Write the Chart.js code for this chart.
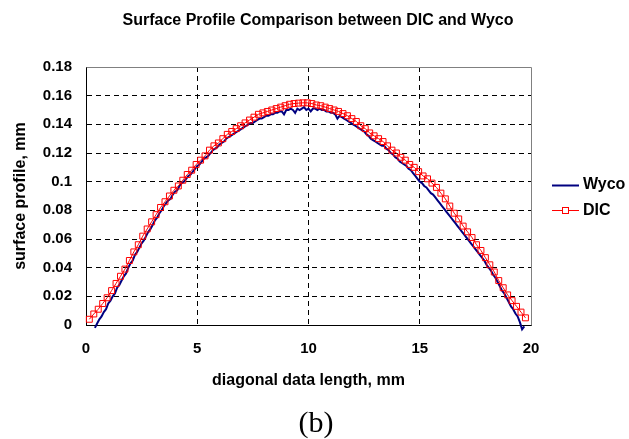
<!DOCTYPE html>
<html>
<head>
<meta charset="utf-8">
<script src="https://cdn.jsdelivr.net/npm/chart.js@4"></script>
<style>
  body { margin: 0; background: #fff; }
</style>
</head>
<body>
<canvas id="profileChart" width="629" height="439"></canvas>
<script>
// Wyco profile (mm)
const wycoX = [
    0.4, 0.5, 0.6, 0.7, 0.8, 0.9, 1.0, 1.1, 1.2, 1.3,
    1.4, 1.5, 1.6, 1.7, 1.8, 1.9, 2.0, 2.1, 2.2, 2.3,
    2.4, 2.5, 2.6, 2.7, 2.8, 2.9, 3.0, 3.1, 3.2, 3.3,
    3.4, 3.5, 3.6, 3.7, 3.8, 3.9, 4.0, 4.1, 4.2, 4.3,
    4.4, 4.5, 4.6, 4.7, 4.8, 4.9, 5.0, 5.1, 5.2, 5.3,
    5.4, 5.5, 5.6, 5.7, 5.8, 5.9, 6.0, 6.1, 6.2, 6.3,
    6.4, 6.5, 6.6, 6.7, 6.8, 6.9, 7.0, 7.1, 7.2, 7.3,
    7.4, 7.5, 7.6, 7.7, 7.8, 7.9, 8.0, 8.1, 8.2, 8.3,
    8.4, 8.5, 8.6, 8.7, 8.8, 8.9, 9.0, 9.1, 9.2, 9.3,
    9.4, 9.5, 9.6, 9.7, 9.8, 9.9, 10.0, 10.1, 10.2, 10.3,
    10.4, 10.5, 10.6, 10.7, 10.8, 10.9, 11.0, 11.1, 11.2, 11.3,
    11.4, 11.5, 11.6, 11.7, 11.8, 11.9, 12.0, 12.1, 12.2, 12.3,
    12.4, 12.5, 12.6, 12.7, 12.8, 12.9, 13.0, 13.1, 13.2, 13.3,
    13.4, 13.5, 13.6, 13.7, 13.8, 13.9, 14.0, 14.1, 14.2, 14.3,
    14.4, 14.5, 14.6, 14.7, 14.8, 14.9, 15.0, 15.1, 15.2, 15.3,
    15.4, 15.5, 15.6, 15.7, 15.8, 15.9, 16.0, 16.1, 16.2, 16.3,
    16.4, 16.5, 16.6, 16.7, 16.8, 16.9, 17.0, 17.1, 17.2, 17.3,
    17.4, 17.5, 17.6, 17.7, 17.8, 17.9, 18.0, 18.1, 18.2, 18.3,
    18.4, 18.5, 18.6, 18.7, 18.8, 18.9, 19.0, 19.1, 19.2, 19.3,
    19.4, 19.5, 19.6, 19.7
];
const wycoY = [
    -0.002, 0.001, 0.004, 0.006, 0.009, 0.011, 0.015, 0.017, 0.020, 0.022,
    0.026, 0.028, 0.031, 0.034, 0.036, 0.040, 0.043, 0.045, 0.049, 0.051,
    0.054, 0.057, 0.059, 0.062, 0.065, 0.067, 0.070, 0.073, 0.075, 0.078,
    0.080, 0.083, 0.085, 0.087, 0.088, 0.091, 0.093, 0.094, 0.097, 0.099,
    0.100, 0.102, 0.104, 0.105, 0.107, 0.109, 0.111, 0.112, 0.114, 0.116,
    0.117, 0.118, 0.120, 0.122, 0.123, 0.124, 0.126, 0.127, 0.128, 0.130,
    0.131, 0.132, 0.133, 0.134, 0.135, 0.136, 0.137, 0.138, 0.139, 0.140,
    0.141, 0.141, 0.142, 0.143, 0.144, 0.144, 0.145, 0.146, 0.146, 0.147,
    0.147, 0.148, 0.148, 0.149, 0.149, 0.147, 0.150, 0.150, 0.151, 0.150,
    0.148, 0.151, 0.150, 0.151, 0.152, 0.150, 0.151, 0.149, 0.151, 0.151,
    0.150, 0.151, 0.150, 0.150, 0.149, 0.149, 0.148, 0.148, 0.147, 0.144,
    0.146, 0.145, 0.144, 0.143, 0.142, 0.141, 0.140, 0.139, 0.138, 0.137,
    0.136, 0.135, 0.133, 0.132, 0.130, 0.129, 0.128, 0.127, 0.126, 0.125,
    0.125, 0.123, 0.122, 0.120, 0.119, 0.117, 0.116, 0.114, 0.113, 0.112,
    0.111, 0.109, 0.108, 0.106, 0.104, 0.102, 0.100, 0.099, 0.097, 0.096,
    0.094, 0.092, 0.091, 0.089, 0.087, 0.085, 0.083, 0.081, 0.079, 0.077,
    0.075, 0.073, 0.071, 0.069, 0.067, 0.065, 0.063, 0.061, 0.059, 0.057,
    0.055, 0.053, 0.051, 0.049, 0.047, 0.045, 0.042, 0.040, 0.038, 0.035,
    0.033, 0.030, 0.027, 0.024, 0.022, 0.019, 0.016, 0.013, 0.011, 0.008,
    0.006, 0.002, -0.003, -0.001
];

// DIC profile (mm), one value per marker
const dicX = [
    0.15, 0.35, 0.55, 0.75, 0.95, 1.15, 1.35, 1.55, 1.75, 1.95,
    2.15, 2.35, 2.55, 2.75, 2.95, 3.15, 3.35, 3.55, 3.75, 3.95,
    4.15, 4.35, 4.55, 4.75, 4.95, 5.15, 5.35, 5.55, 5.75, 5.95,
    6.15, 6.35, 6.55, 6.75, 6.95, 7.15, 7.35, 7.55, 7.75, 7.95,
    8.15, 8.35, 8.55, 8.75, 8.95, 9.15, 9.35, 9.55, 9.75, 9.95,
    10.15, 10.35, 10.55, 10.75, 10.95, 11.15, 11.35, 11.55, 11.75, 11.95,
    12.15, 12.35, 12.55, 12.75, 12.95, 13.15, 13.35, 13.55, 13.75, 13.95,
    14.15, 14.35, 14.55, 14.75, 14.95, 15.15, 15.35, 15.55, 15.75, 15.95,
    16.15, 16.35, 16.55, 16.75, 16.95, 17.15, 17.35, 17.55, 17.75, 17.95,
    18.15, 18.35, 18.55, 18.75, 18.95, 19.15, 19.35, 19.55, 19.75
];
const dicY = [
    0.004, 0.0077, 0.011, 0.015, 0.019, 0.024, 0.029, 0.034, 0.039, 0.045,
    0.051, 0.056, 0.062, 0.067, 0.072, 0.077, 0.082, 0.086, 0.090, 0.094,
    0.097, 0.101, 0.105, 0.108, 0.112, 0.115, 0.118, 0.122, 0.125, 0.127,
    0.130, 0.133, 0.135, 0.137, 0.139, 0.141, 0.143, 0.145, 0.147, 0.148,
    0.149, 0.150, 0.151, 0.152, 0.153, 0.154, 0.1545, 0.1548, 0.155, 0.155,
    0.1545, 0.1535, 0.153, 0.152, 0.151, 0.150, 0.149, 0.1475, 0.146, 0.144,
    0.142, 0.139, 0.137, 0.134, 0.132, 0.130, 0.128, 0.125, 0.122, 0.120,
    0.117, 0.115, 0.112, 0.110, 0.107, 0.104, 0.102, 0.099, 0.096, 0.092,
    0.088, 0.083, 0.078, 0.074, 0.069, 0.065, 0.061, 0.056, 0.052, 0.047,
    0.042, 0.037, 0.031, 0.026, 0.021, 0.017, 0.013, 0.009, 0.005
];

const xTickLabels = ['0', '5', '10', '15', '20'];
const yTickLabels = ['0', '0.02', '0.04', '0.06', '0.08', '0.1', '0.12', '0.14', '0.16', '0.18'];

const wycoColor = '#000080';
const dicColor = '#ff0000';
const boldFont = (size) => ({ family: 'Liberation Sans, Arial, sans-serif', size: size, weight: 'bold' });

// title, legend, caption and the grey frame drawn on top
const extrasPlugin = {
    id: 'extras',
    afterDraw(chart) {
        const ctx = chart.ctx;
        const area = chart.chartArea;
        ctx.save();

        // grey frame on top and right
        ctx.strokeStyle = '#808080';
        ctx.lineWidth = 1;
        ctx.beginPath();
        ctx.moveTo(Math.round(area.left) + 0.5, Math.round(area.top) + 0.5);
        ctx.lineTo(Math.round(area.right) + 0.5, Math.round(area.top) + 0.5);
        ctx.lineTo(Math.round(area.right) + 0.5, Math.round(area.bottom) + 0.5);
        ctx.stroke();

        ctx.fillStyle = '#000';
        ctx.textBaseline = 'middle';

        // title
        ctx.font = 'bold 16px "Liberation Sans", Arial, sans-serif';
        ctx.textAlign = 'center';
        ctx.fillText('Surface Profile Comparison between DIC and Wyco', 318, 21);

        // legend
        ctx.textAlign = 'left';
        ctx.strokeStyle = wycoColor;
        ctx.lineWidth = 2;
        ctx.beginPath();
        ctx.moveTo(552, 185.5);
        ctx.lineTo(579, 185.5);
        ctx.stroke();
        ctx.fillText('Wyco', 583, 185);

        ctx.strokeStyle = dicColor;
        ctx.lineWidth = 1;
        ctx.beginPath();
        ctx.moveTo(552, 210.5);
        ctx.lineTo(579, 210.5);
        ctx.stroke();
        ctx.fillStyle = '#fff';
        ctx.fillRect(562.5, 207.5, 6, 6);
        ctx.strokeRect(562.5, 207.5, 6, 6);
        ctx.fillStyle = '#000';
        ctx.fillText('DIC', 583, 211);

        // caption
        ctx.font = '30px "Liberation Serif", "Times New Roman", serif';
        ctx.textAlign = 'center';
        ctx.fillText('(b)', 316, 424);

        ctx.restore();
    }
};

const ctx = document.getElementById('profileChart').getContext('2d');

const profileChart = new Chart(ctx, {
    type: 'line',
    data: {
        datasets: [
            {
                label: 'DIC',
                data: dicX.map((x, i) => ({ x: x, y: dicY[i] })),
                borderColor: dicColor,
                borderWidth: 1,
                pointStyle: 'rect',
                pointRadius: 4.2,
                pointBorderWidth: 1,
                pointBorderColor: dicColor,
                pointBackgroundColor: 'rgba(255,255,255,0)',
                fill: false,
                tension: 0,
                clip: false,
                order: 0
            },
            {
                label: 'Wyco',
                data: wycoX.map((x, i) => ({ x: x, y: wycoY[i] })),
                borderColor: wycoColor,
                borderWidth: 2,
                pointRadius: 0,
                fill: false,
                tension: 0,
                clip: false,
                order: 1
            }
        ]
    },
    options: {
        responsive: false,
        animation: false,
        events: [],
        layout: {
            padding: { left: 0, top: 67, right: 98, bottom: 0 }
        },
        plugins: {
            legend: { display: false },
            title: { display: false },
            tooltip: { enabled: false }
        },
        scales: {
            x: {
                type: 'linear',
                position: 'bottom',
                min: 0,
                max: 20,
                afterFit: (scale) => { scale.height = 114; },
                ticks: {
                    stepSize: 5,
                    padding: 15,
                    color: '#000',
                    font: boldFont(15),
                    maxRotation: 0,
                    callback: (value, index) => xTickLabels[index]
                },
                grid: {
                    drawTicks: false,
                    color: (c) => (c.tick && (c.tick.value === 0 || c.tick.value === 20)) ? 'rgba(0,0,0,0)' : '#000',
                    lineWidth: 1
                },
                border: { display: true, color: '#000', width: 1, dash: [5, 4] },
                title: {
                    display: true,
                    text: 'diagonal data length, mm',
                    color: '#000',
                    font: boldFont(16),
                    padding: { top: 0, bottom: 49 }
                }
            },
            y: {
                type: 'linear',
                position: 'left',
                min: 0,
                max: 0.18,
                afterFit: (scale) => { scale.width = 86; },
                ticks: {
                    stepSize: 0.02,
                    padding: 14,
                    color: '#000',
                    font: boldFont(15),
                    callback: (value, index) => yTickLabels[index]
                },
                grid: {
                    drawTicks: false,
                    color: (c) => (c.tick && (c.index === 0 || c.index === yTickLabels.length - 1)) ? 'rgba(0,0,0,0)' : '#000',
                    lineWidth: 1
                },
                border: { display: true, color: '#000', width: 1, dash: [5, 4] },
                title: {
                    display: true,
                    text: 'surface profile, mm',
                    color: '#000',
                    font: boldFont(16),
                    padding: { top: 11, bottom: 0 }
                }
            }
        }
    },
    plugins: [extrasPlugin]
});
</script>
</body>
</html>
